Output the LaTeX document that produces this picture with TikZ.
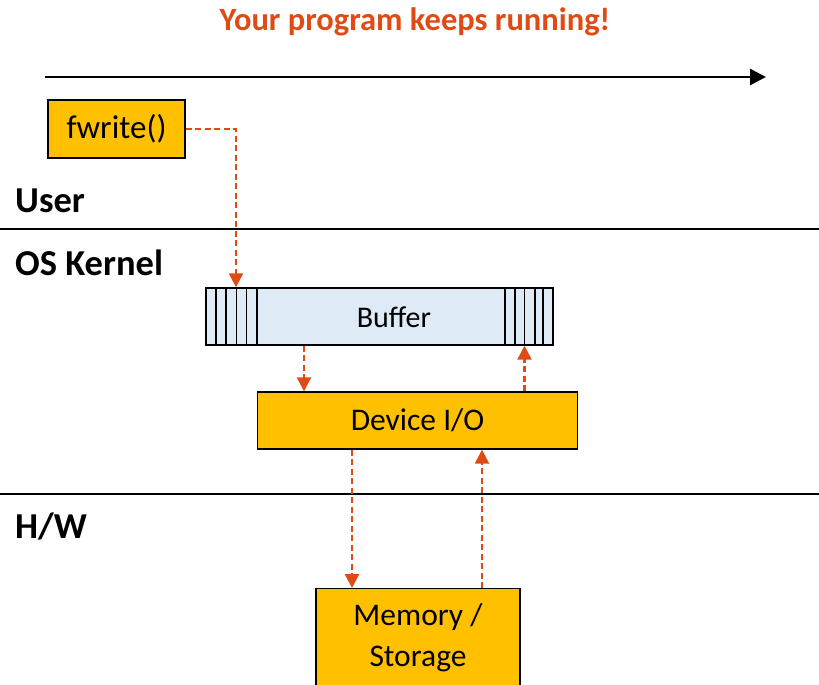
\documentclass[tikz,border=0pt]{standalone}
\usepackage{fontspec}
\setmainfont{Carlito}
\usetikzlibrary{arrows.meta}
\definecolor{boxyellow}{HTML}{FFC000}
\definecolor{bufblue}{HTML}{DEEBF7}
\definecolor{flow}{HTML}{E04A14}
\tikzset{
  box/.style={draw=black, line width=1.4pt, fill=boxyellow, inner sep=0pt},
  label/.style={inner sep=0pt},
  layer/.style={font=\fontsize{36.5}{40}\selectfont\bfseries, anchor=west, inner sep=0pt},
  flowline/.style={draw=flow, line width=2.4pt, dash pattern=on 6pt off 3.5pt,
    -{Triangle[length=14pt,width=14pt]}},
  sep/.style={line width=1.6pt}
}
\begin{document}
\begin{tikzpicture}[x=1pt,y=-1pt]
\useasboundingbox (0,0) rectangle (819,685);
\clip (0,0) rectangle (819,685);

% title and time arrow
\node[font=\fontsize{32.5}{36}\selectfont\bfseries, text=flow, inner sep=0pt] (title) at (415,22) {Your program keeps running!};
\coordinate (tstart) at (45,77);
\coordinate (tend) at (766,77);
\draw[line width=2.6pt, -{Triangle[length=16pt,width=16pt]}] (tstart) -- (tend);

% layer separators
\coordinate (s1a) at (0,229); \coordinate (s1b) at (819,229);
\coordinate (s2a) at (0,494); \coordinate (s2b) at (819,494);
\draw[sep] (s1a) -- (s1b);
\draw[sep] (s2a) -- (s2b);

\node[layer] (user) at (15,201) {User};
\node[layer] (kernel) at (15,263) {OS Kernel};
\node[layer] (hw) at (15,527) {H/W};

% boxes
\node[box, minimum width=137pt, minimum height=58pt, label, font=\fontsize{33}{38}\selectfont] (fwrite) at (116.5,129) {fwrite()};

\node[draw=black, line width=1.4pt, fill=bufblue, minimum width=347pt, minimum height=57pt, inner sep=0pt] (buffer) at (379.5,316.5) {};
\node[label, font=\fontsize{30}{34}\selectfont] (buftext) at (394,317) {Buffer};
\foreach \x in {216,226,236.5,246.5,257,505,515,524.5,535,543}
  \draw[line width=1.4pt] (\x,288) -- (\x,345);

\node[box, minimum width=320pt, minimum height=57pt, label, font=\fontsize{31.5}{36}\selectfont] (dev) at (417.5,420.5) {Device I/O};

\node[box, minimum width=204pt, minimum height=120pt, label, anchor=north] (mem) at (418,588) {};
\node[label, align=center, font=\fontsize{31.5}{41}\selectfont] (memtext) at (418,638) {Memory /\\Storage};

% data flow
\coordinate (fw1) at (236,129);
\draw[flowline] (fwrite.east) -- (fw1) -- (fw1 |- buffer.north);
\draw[flowline] (buffer.south -| 304,0) -- (dev.north -| 304,0);
\draw[flowline] (dev.north -| 524.5,0) -- (buffer.south -| 524.5,0);
\draw[flowline] (dev.south -| 352,0) -- (mem.north -| 352,0);
\draw[flowline] (mem.north -| 482,0) -- (dev.south -| 482,0);
\end{tikzpicture}
\end{document}
